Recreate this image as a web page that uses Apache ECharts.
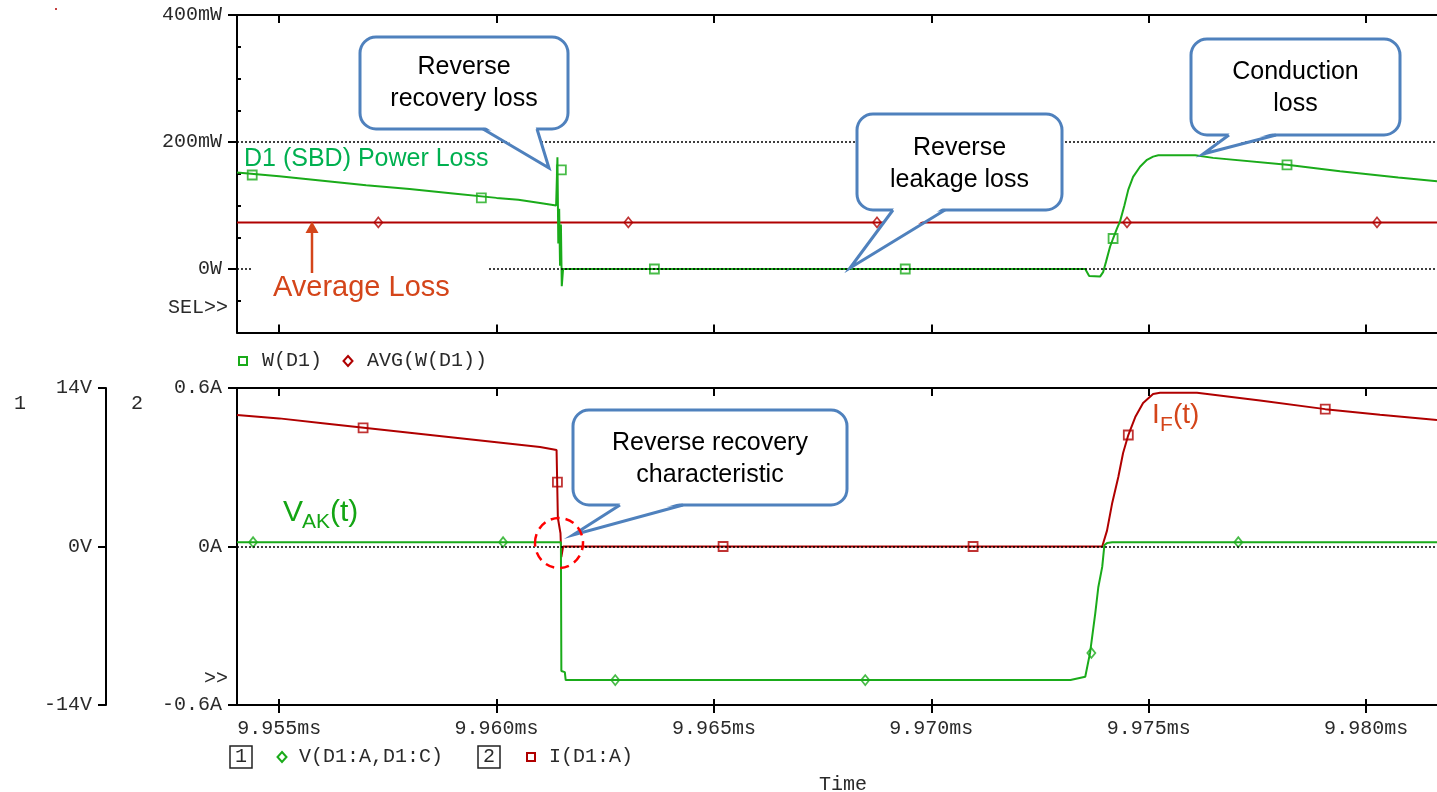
<!DOCTYPE html>
<html><head><meta charset="utf-8">
<script src="https://cdn.jsdelivr.net/npm/echarts@6/dist/echarts.min.js"></script>
<style>html,body{margin:0;padding:0;background:#fff}#c{width:1437px;height:792px}</style>
</head><body><div id="c"></div>
<script>
// ---------- data ----------
const xTicks = [9.955, 9.960, 9.965, 9.970, 9.975, 9.980];
const powerTicks = [0, 200, 400];
const powerTickLabels = ['0W', '200mW', '400mW'];
const powerMinorTicks = [-50, 50, 100, 150, 250, 300, 350];
const currentTicks = [-0.6, 0, 0.6];
const currentTickLabels = ['-0.6A', '0A', '0.6A'];
const voltageTicks = [-14, 0, 14];
const voltageTickLabels = ['-14V', '0V', '14V'];

// W(D1) in mW vs time in ms
const powerLoss = [
  [9.95403,152],[9.9550,146],[9.9560,139],[9.9570,132],[9.9580,126],[9.9590,119],[9.9600,112],
  [9.9605,109],[9.9610,104],[9.96137,100],
  [9.96140,176],[9.96142,40],[9.96144,95],[9.96146,5],[9.96148,70],[9.96150,-27],[9.96153,0],
  [9.97354,0],[9.97363,-11],[9.97388,-12],[9.97395,-5],[9.97402,12],[9.97411,35],[9.97418,48],
  [9.97427,64],[9.97434,75],[9.97444,100],[9.97453,125],[9.97464,145],[9.97480,161],[9.97496,172],
  [9.97510,177],[9.97522,179],[9.97607,179],[9.97648,175],[9.97818,164],[9.97940,154],[9.98074,144],[9.98163,138]
];
const powerMarkers = [[9.95438,148],[9.95965,112],[9.96149,156],[9.96363,0],[9.96940,0],[9.97418,48],[9.97818,164]];
const avgLoss = [[9.95403,73.4],[9.98163,73.4]];
const avgMarkers = [[9.95728,73.4],[9.96303,73.4],[9.96875,73.4],[9.97450,73.4],[9.98025,73.4]];

// I(D1:A) in A
const current = [
  [9.95403,0.498],[9.9550,0.485],[9.9560,0.467],[9.9570,0.449],[9.9580,0.431],[9.9590,0.413],
  [9.9600,0.395],[9.9610,0.377],[9.96138,0.365],[9.96141,0.108],[9.96147,0.05],[9.96149,-0.04],
  [9.96153,0],[9.97393,0],[9.97404,0.06],[9.97416,0.165],[9.97430,0.263],[9.97441,0.354],
  [9.97453,0.422],[9.97469,0.49],[9.97487,0.543],[9.97510,0.577],[9.97526,0.582],[9.97611,0.582],
  [9.97756,0.553],[9.97906,0.52],[9.98032,0.499],[9.98163,0.479]
];
const currentMarkers = [[9.95693,0.449],[9.96140,0.244],[9.96521,0],[9.97096,0],[9.97453,0.422],[9.97906,0.52]];

// V(D1:A,D1:C) in V
const voltage = [
  [9.95403,0.38],[9.96148,0.38],[9.96149,-11.0],[9.96157,-11.1],[9.96159,-11.8],[9.97320,-11.8],
  [9.97354,-11.5],[9.97365,-9.4],[9.97377,-5.9],[9.97384,-3.6],[9.97393,-1.8],[9.97398,0.13],
  [9.97404,0.3],[9.97416,0.38],[9.98163,0.38]
];
const voltageMarkers = [[9.95440,0.38],[9.96015,0.38],[9.96273,-11.8],[9.96848,-11.8],[9.97368,-9.4],[9.97706,0.38]];

// ---------- styling ----------
const G = '#1aab1a', R = '#b00000', BLUE = '#4f81bd', ORANGE = '#d4451a', TXT = '#2a2a2a';
const MONO = '"Liberation Mono", "DejaVu Sans Mono", monospace';
const SANS = '"Liberation Sans", Arial, sans-serif';
const X_MIN = 9.95403, X_MAX = 9.98163;

function lbl(values, labels) {
  return function (v) {
    for (let i = 0; i < values.length; i++) if (Math.abs(v - values[i]) < 1e-9) return labels[i];
    return '';
  };
}
const labelStyle = { fontFamily: MONO, fontSize: 20, color: TXT };

function xAxisDef(grid, pos, opts) {
  return Object.assign({
    type: 'value', gridIndex: grid, position: pos, min: X_MIN, max: X_MAX,
    axisLine: { show: true, onZero: false, lineStyle: { color: '#000', width: 2 } },
    axisTick: { show: true, inside: true, length: 8, customValues: xTicks, lineStyle: { color: '#000', width: 2 } },
    axisLabel: { show: false },
    splitLine: { show: false }
  }, opts || {});
}

function txt(x, y, text, size, color, align, family) {
  return { type: 'text', x: x, y: y, z: 100,
    style: { text: text, font: size + 'px ' + (family || MONO), fill: color || TXT,
      align: align || 'left', textAlign: align || 'left', verticalAlign: 'middle', textVerticalAlign: 'middle' } };
}

function callout(x0, y0, x1, y1, b1, b2, tip, lines, lineY) {
  const els = [];
  els.push({ type: 'rect', z: 100, shape: { x: x0, y: y0, width: x1 - x0, height: y1 - y0, r: 16 },
    style: { fill: '#fff', stroke: BLUE, lineWidth: 3 } });
  els.push({ type: 'polygon', z: 100, shape: { points: [[b1 + 1.5, y1 - 2.5], [b2 - 1.5, y1 - 2.5], tip] },
    style: { fill: '#fff' } });
  els.push({ type: 'polyline', z: 100, shape: { points: [[b1, y1], tip, [b2, y1]] },
    style: { stroke: BLUE, lineWidth: 3, fill: 'none', lineJoin: 'miter' } });
  lines.forEach(function (t, i) { els.push(txt((x0 + x1) / 2, lineY[i], t, 25, '#000', 'center', SANS)); });
  return els;
}

const graphics = [].concat(
  [{ type: 'circle', z: 100, shape: { cx: 56, cy: 9, r: 1 }, style: { fill: R } }],
  // cover under "Average Loss"
  [{ type: 'rect', z: 100, shape: { x: 253, y: 265, width: 235, height: 42 }, style: { fill: '#fff' } }],
  callout(360, 37, 568, 129, 483, 537, [549, 168], ['Reverse', 'recovery loss'], [67, 99]),
  callout(857, 114, 1062, 210, 893, 945, [850, 268], ['Reverse', 'leakage loss'], [148, 180]),
  callout(1191, 39, 1400, 135, 1229, 1276, [1203, 154], ['Conduction', 'loss'], [72, 104]),
  callout(573, 410, 847, 505, 620, 683, [573, 535], ['Reverse recovery', 'characteristic'], [443, 475]),
  [
    { type: 'ellipse', z: 100, shape: { cx: 559, cy: 543, rx: 24, ry: 25 },
      style: { fill: 'none', stroke: '#ff0000', lineWidth: 2.5, lineDash: [9, 6] } },
    txt(244, 159.5, 'D1 (SBD) Power Loss', 25, '#00b050', 'left', SANS),
    txt(273, 287.5, 'Average Loss', 29, ORANGE, 'left', SANS),
    { type: 'line', z: 100, shape: { x1: 312, y1: 273, x2: 312, y2: 230 }, style: { stroke: ORANGE, lineWidth: 2.5 } },
    { type: 'polygon', z: 100, shape: { points: [[305.5, 233], [318.5, 233], [312, 221.5]] }, style: { fill: ORANGE } },
    txt(283, 512.3, 'V', 30, '#14a514', 'left', SANS),
    txt(302, 522.5, 'AK', 21, '#14a514', 'left', SANS),
    txt(330, 512.3, '(t)', 30, '#14a514', 'left', SANS),
    txt(1152, 415, 'I', 28, ORANGE, 'left', SANS),
    txt(1160, 425.5, 'F', 21, ORANGE, 'left', SANS),
    txt(1173, 415, '(t)', 28, ORANGE, 'left', SANS),
    // axis annotations
    txt(228, 307.5, 'SEL>>', 20, TXT, 'right'),
    txt(228, 679, '>>', 20, TXT, 'right'),
    txt(20, 404, '1', 20, TXT, 'center'),
    txt(137, 404, '2', 20, TXT, 'center'),
    // top legend
    { type: 'rect', z: 100, shape: { x: 239, y: 357, width: 8, height: 8 }, style: { fill: 'none', stroke: G, lineWidth: 2 } },
    txt(262, 361, 'W(D1)', 20, TXT, 'left'),
    { type: 'polygon', z: 100, shape: { points: [[348, 356], [352.5, 361], [348, 366], [343.5, 361]] },
      style: { fill: 'none', stroke: R, lineWidth: 2 } },
    txt(367, 361, 'AVG(W(D1))', 20, TXT, 'left'),
    // bottom legend
    { type: 'rect', z: 100, shape: { x: 230, y: 746, width: 22, height: 22 }, style: { fill: 'none', stroke: '#222', lineWidth: 1.5 } },
    txt(241, 757, '1', 20, TXT, 'center'),
    { type: 'polygon', z: 100, shape: { points: [[282, 752], [286.5, 757], [282, 762], [277.5, 757]] },
      style: { fill: 'none', stroke: G, lineWidth: 2 } },
    txt(299, 757, 'V(D1:A,D1:C)', 20, TXT, 'left'),
    { type: 'rect', z: 100, shape: { x: 478, y: 746, width: 22, height: 22 }, style: { fill: 'none', stroke: '#222', lineWidth: 1.5 } },
    txt(489, 757, '2', 20, TXT, 'center'),
    { type: 'rect', z: 100, shape: { x: 527, y: 753, width: 8, height: 8 }, style: { fill: 'none', stroke: R, lineWidth: 2 } },
    txt(549, 757, 'I(D1:A)', 20, TXT, 'left'),
    txt(843, 785, 'Time', 20, TXT, 'center')
  ]
);

const dotted = { color: '#000', type: [2, 2], width: 1.5 };

const option = {
  animation: false,
  backgroundColor: '#fff',
  grid: [
    { left: 237, top: 15, right: 0, height: 317.5 },
    { left: 237, top: 388, right: 0, height: 317 }
  ],
  xAxis: [
    xAxisDef(0, 'bottom'),
    xAxisDef(0, 'top'),
    xAxisDef(1, 'bottom', {
      axisTick: { show: true, inside: false, length: 8, customValues: xTicks, lineStyle: { color: '#000', width: 2 } },
      axisLabel: Object.assign({ show: true, margin: 14, customValues: xTicks,
        formatter: function (v) { return v.toFixed(3) + 'ms'; } }, labelStyle)
    }),
    xAxisDef(1, 'bottom', {
      axisLine: { show: false, onZero: false },
      axisTick: { show: true, inside: true, length: 6, customValues: xTicks, lineStyle: { color: '#000', width: 2 } }
    }),
    xAxisDef(1, 'top')
  ],
  yAxis: [
    { type: 'value', gridIndex: 0, position: 'left', min: -100, max: 400,
      axisLine: { show: true, onZero: false, lineStyle: { color: '#000', width: 2 } },
      axisTick: { show: true, inside: false, length: 9, customValues: powerTicks, lineStyle: { color: '#000', width: 2 } },
      axisLabel: Object.assign({ show: true, margin: 15, customValues: powerTicks,
        formatter: lbl(powerTicks, powerTickLabels) }, labelStyle),
      splitLine: { show: false } },
    { type: 'value', gridIndex: 0, position: 'left', min: -100, max: 400,
      axisLine: { show: false, onZero: false },
      axisTick: { show: true, inside: true, length: 4, customValues: powerMinorTicks, lineStyle: { color: '#000', width: 2 } },
      axisLabel: { show: false }, splitLine: { show: false } },
    { type: 'value', gridIndex: 1, position: 'left', min: -0.6, max: 0.6,
      axisLine: { show: true, onZero: false, lineStyle: { color: '#000', width: 2 } },
      axisTick: { show: true, inside: false, length: 9, customValues: currentTicks, lineStyle: { color: '#000', width: 2 } },
      axisLabel: Object.assign({ show: true, margin: 15, customValues: currentTicks,
        formatter: lbl(currentTicks, currentTickLabels) }, labelStyle),
      splitLine: { show: false } },
    { type: 'value', gridIndex: 1, position: 'left', offset: 131, min: -14, max: 14,
      axisLine: { show: true, onZero: false, lineStyle: { color: '#000', width: 2 } },
      axisTick: { show: true, inside: false, length: 8, customValues: voltageTicks, lineStyle: { color: '#000', width: 2 } },
      axisLabel: Object.assign({ show: true, margin: 14, customValues: voltageTicks,
        formatter: lbl(voltageTicks, voltageTickLabels) }, labelStyle),
      splitLine: { show: false } }
  ],
  series: [
    { name: 'AVG(W(D1))', type: 'line', xAxisIndex: 0, yAxisIndex: 0, data: avgLoss, symbol: 'none',
      lineStyle: { color: R, width: 2 }, silent: true,
      markLine: { silent: true, symbol: ['none', 'none'], label: { show: false }, lineStyle: dotted,
        data: [{ yAxis: 0 }, { yAxis: 200 }] } },
    { name: 'W(D1)', type: 'line', xAxisIndex: 0, yAxisIndex: 0, data: powerLoss, symbol: 'none',
      lineStyle: { color: G, width: 2 }, silent: true },
    { type: 'scatter', xAxisIndex: 0, yAxisIndex: 0, data: powerMarkers, symbol: 'rect', symbolSize: 9,
      itemStyle: { color: 'rgba(0,0,0,0)', borderColor: G, borderWidth: 1.8 }, silent: true },
    { type: 'scatter', xAxisIndex: 0, yAxisIndex: 0, data: avgMarkers, symbol: 'diamond', symbolSize: [8, 10],
      itemStyle: { color: 'rgba(0,0,0,0)', borderColor: R, borderWidth: 1.8 }, silent: true },
    { name: 'I(D1:A)', type: 'line', xAxisIndex: 2, yAxisIndex: 2, data: current, symbol: 'none',
      lineStyle: { color: R, width: 2 }, silent: true,
      markLine: { silent: true, symbol: ['none', 'none'], label: { show: false }, lineStyle: dotted,
        data: [{ yAxis: 0 }] } },
    { name: 'V(D1:A,D1:C)', type: 'line', xAxisIndex: 2, yAxisIndex: 3, data: voltage, symbol: 'none',
      lineStyle: { color: G, width: 2 }, silent: true },
    { type: 'scatter', xAxisIndex: 2, yAxisIndex: 2, data: currentMarkers, symbol: 'rect', symbolSize: 9,
      itemStyle: { color: 'rgba(0,0,0,0)', borderColor: R, borderWidth: 1.8 }, silent: true },
    { type: 'scatter', xAxisIndex: 2, yAxisIndex: 3, data: voltageMarkers, symbol: 'diamond', symbolSize: [8, 10],
      itemStyle: { color: 'rgba(0,0,0,0)', borderColor: G, borderWidth: 1.8 }, silent: true }
  ],
  graphic: graphics
};

const chart = echarts.init(document.getElementById('c'), null, { renderer: 'canvas' });
chart.setOption(option);
</script>
</body></html>
